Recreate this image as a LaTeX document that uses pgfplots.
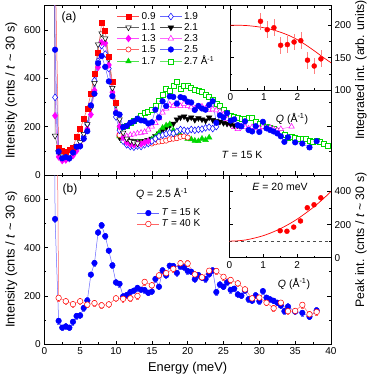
\documentclass[border=0pt]{standalone}
\usepackage{pgfplots}
\usepackage{pgfplotstable}
\pgfplotsset{compat=1.18}
\usepackage{fontspec}
\setmainfont{Liberation Sans}

\definecolor{cred}{RGB}{255,0,0}
\definecolor{cmag}{RGB}{255,0,255}
\definecolor{cgreen}{RGB}{0,215,0}
\definecolor{cblue}{RGB}{0,0,255}

\pgfplotsset{
  base/.style={scale only axis,
    font=\fontsize{10}{12}\selectfont,
    /pgf/number format/assume math mode=true,
    tick align=inside, major tick length=3.5pt, minor tick length=2pt,
    every tick/.style={black, line width=0.5pt},
    axis line style={line width=0.6pt},
    label style={font=\fontsize{12.8}{15}\selectfont},
    legend image code/.code={\draw[mark repeat=2,mark phase=2,#1] plot coordinates {(0pt,0pt) (11pt,0pt) (22pt,0pt)};},
  },
  s09/.style={color=cred!70, line width=0.5pt, mark=square*, mark size=2.5pt, mark options={draw=cred, fill=cred, solid}},
  s11/.style={color=black!60, line width=0.5pt, mark=triangle*, mark size=3.2pt, mark options={draw=black, fill=white, rotate=180, solid}},
  s13/.style={color=cmag!70, line width=0.5pt, mark=diamond*, mark size=3.4pt, mark options={draw=cmag, fill=cmag, solid}},
  s15/.style={color=cred!60, line width=0.5pt, mark=*, mark size=2.6pt, mark options={draw=cred, fill=white, solid}},
  s17/.style={color=cgreen!70, line width=0.5pt, mark=triangle*, mark size=3.2pt, mark options={draw=cgreen, fill=cgreen, solid}},
  s19/.style={color=cblue!60, line width=0.5pt, mark=diamond*, mark size=3.4pt, mark options={draw=cblue, fill=white, solid}},
  s21/.style={color=black!70, line width=0.5pt, mark=triangle*, mark size=3.2pt, mark options={draw=black, fill=black, rotate=180, solid}},
  s23/.style={color=cmag!60, line width=0.5pt, mark=triangle*, mark size=3.2pt, mark options={draw=cmag, fill=white, solid}},
  s25/.style={color=cblue!60, line width=0.5pt, mark=*, mark size=2.8pt, mark options={draw=cblue, fill=cblue, solid}},
  s27/.style={color=cgreen!60, line width=0.5pt, mark=square*, mark size=2.5pt, mark options={draw=cgreen, fill=white, solid}},
  s40/.style={color=cred!60, line width=0.5pt, mark=*, mark size=2.8pt, mark options={draw=cred, fill=white, solid}},
}

% Q = 2.5, T = 15 K
\pgfplotstableread{
E I
1.0 5000
1.5 518
2.0 97
2.5 69
3.0 74
3.5 69
4.0 93
4.5 117
5.0 119
5.5 150
6.0 181
6.5 288
7.0 336
7.5 462
8.0 492
8.5 447
9.0 387
9.5 326
10.0 256
10.5 250
11.0 198
11.5 203
12.0 216
12.5 222
13.0 233
13.5 226
14.0 224
14.5 213
15.0 218
15.5 270
16.0 238
16.5 305
17.0 285
17.5 325
18.0 323
18.5 295
19.0 322
19.5 318
20.0 303
20.5 300
21.0 269
21.5 286
22.0 275
22.5 270
23.0 290
23.5 305
24.0 216
24.5 247
25.0 238
25.5 256
26.0 225
26.5 230
27.0 206
27.5 201
28.0 222
28.5 186
29.0 180
29.5 202
30.0 178
30.5 220
31.0 193
31.5 186
32.0 180
32.5 172
33.0 160
33.5 137
34.0 156
35.0 135
36.0 130
37.0 114
38.0 140
}\tblue

% Q = 2.5, T = 40 K
\pgfplotstableread{
E I
1.5 2000
2.0 192
3.0 178
4.0 166
5.0 178
6.0 164
7.0 170
8.0 161
9.0 165
10.0 190
11.0 188
12.0 190
13.0 200
14.0 258
15.0 244
16.0 285
17.0 294
18.0 312
19.0 335
20.0 334
21.0 289
22.0 277
23.0 304
24.0 303
25.0 279
26.0 266
27.0 252
28.0 227
29.0 190
30.0 193
31.0 172
32.0 149
33.0 172
34.0 137
35.0 138
36.0 163
37.0 124
38.0 134
}\tred

\pgfplotstableread{
E I
1.0 5000
1.5 900
2.0 113
2.5 100
3.0 97
3.5 103
4.0 112
4.5 160
5.0 190
5.5 232
6.0 275
6.5 335
7.0 420
7.5 505
8.0 628
8.5 595
9.0 490
9.5 385
10.0 300
}\tA

\pgfplotstableread{
E I
1.0 5000
1.5 162
2.0 95
2.5 80
3.0 80
3.5 85
4.0 95
4.5 120
5.0 135
5.5 170
6.0 210
6.5 280
7.0 380
7.5 540
8.0 585
8.5 565
9.0 480
9.5 360
10.0 290
10.5 230
11.0 175
11.5 150
12.0 140
12.5 135
13.0 130
}\tB

\pgfplotstableread{
E I
1.0 5000
1.5 245
2.0 75
2.5 60
3.0 62
3.5 70
4.0 80
4.5 100
5.0 125
5.5 150
6.0 190
6.5 250
7.0 350
7.5 445
8.0 548
8.5 545
9.0 455
9.5 342
10.0 260
10.5 200
11.0 155
11.5 135
12.0 128
12.5 125
13.0 130
13.5 128
14.0 135
14.5 140
}\tC

\pgfplotstableread{
E I
10.5 165
11.0 145
11.5 138
12.0 132
12.5 130
13.0 128
13.5 130
14.0 132
14.5 135
15.0 130
15.5 135
16.0 138
16.5 140
17.0 142
17.5 148
18.0 150
18.5 152
19.0 158
19.5 160
20.0 155
}\tD

\pgfplotstableread{
E I
10.5 160
11.0 140
11.5 135
12.0 130
12.5 132
13.0 135
13.5 133
14.0 138
14.5 140
15.0 148
15.5 158
16.0 175
16.5 195
17.0 205
17.5 210
18.0 185
18.5 172
19.0 165
19.5 158
20.0 150
20.5 148
21.0 142
21.5 140
22.0 150
22.5 145
23.0 155
}\tE

\pgfplotstableread{
E I
1.0 5000
1.5 321
2.0 90
2.5 70
3.0 72
3.5 68
4.0 85
4.5 110
5.0 120
5.5 160
6.0 210
6.5 280
7.0 390
7.5 470
8.0 535
8.5 500
9.0 440
9.5 330
10.0 240
10.5 185
11.0 140
11.5 125
12.0 118
12.5 115
13.0 120
13.5 118
14.0 125
14.5 130
15.0 140
15.5 150
16.0 160
16.5 165
17.0 170
17.5 175
18.0 172
18.5 180
19.0 188
19.5 185
20.0 182
20.5 188
21.0 185
21.5 188
22.0 190
22.5 195
23.0 198
23.5 192
24.0 200
}\tF

\pgfplotstableread{
E I
10.5 155
11.0 150
11.5 145
12.0 142
12.5 140
13.0 138
13.5 140
14.0 140
14.5 145
15.0 150
15.5 160
16.0 172
16.5 185
17.0 195
17.5 205
18.0 212
18.5 230
19.0 238
19.5 242
20.0 232
20.5 238
21.0 228
21.5 235
22.0 230
22.5 225
23.0 238
23.5 228
24.0 222
24.5 220
25.0 215
25.5 212
26.0 210
26.5 205
27.0 205
}\tG

\pgfplotstableread{
E I
10.5 175
11.0 155
11.5 160
12.0 165
12.5 168
13.0 172
13.5 175
14.0 178
14.5 188
15.0 200
15.5 215
16.0 235
16.5 258
17.0 275
17.5 290
18.0 285
18.5 295
19.0 285
19.5 295
20.0 285
20.5 280
21.0 275
21.5 280
22.0 283
22.5 275
23.0 270
23.5 272
24.0 268
24.5 262
25.0 250
25.5 232
26.0 212
26.5 198
27.0 190
27.5 200
28.0 198
28.5 192
29.0 198
29.5 195
30.0 192
30.5 198
31.0 195
31.5 196
32.0 190
32.5 185
33.0 190
34.5 200
}\tH

\pgfplotstableread{
E I
10.5 195
11.0 200
11.5 205
12.0 215
12.5 225
13.0 232
13.5 245
14.0 258
14.5 262
15.0 270
15.5 285
16.0 305
16.5 330
17.0 355
17.5 350
18.0 370
18.5 385
19.0 355
19.5 370
20.0 368
20.5 360
21.0 352
21.5 350
22.0 345
22.5 330
23.0 322
23.5 310
24.0 295
24.5 285
25.0 270
25.5 258
26.0 245
26.5 240
27.0 235
27.5 232
28.0 232
28.5 235
29.0 238
29.5 222
30.0 212
30.5 205
31.0 198
31.5 197
32.0 193
32.5 185
33.0 176
33.5 168
34.0 155
34.5 160
35.0 152
35.5 148
36.0 148
36.5 150
37.0 142
37.5 138
38.0 141
38.5 137
39.0 128
39.5 121
}\tJ

\begin{document}
\begin{tikzpicture}[x=1pt,y=1pt]
\path[use as bounding box] (0,0) rectangle (373,383);

% ---------------- panel (a)
\begin{axis}[base, at={(44.3pt,208pt)}, anchor=south west,
  width=286.7pt, height=169.3pt,
  xmin=0, xmax=40, ymin=0, ymax=700,
  xtick={0,5,...,40}, minor xtick={2.5,7.5,...,37.5}, xticklabels={},
  ytick={0,200,400,600}, minor ytick={100,300,500,700},
  ylabel={Intensity (cnts / \textit{t} \textasciitilde\ 30 s)},
  legend columns=2, legend cell align=left,
  legend style={draw=none, fill=none, at={(0.2536,0.974)}, anchor=north west,
    font=\fontsize{10}{12}\selectfont, inner sep=0pt, row sep=-1.5pt,
    /tikz/every even column/.append style={column sep=2pt}},
]
\addplot[s27, forget plot] table {\tJ};
\addplot[s23, forget plot] table {\tH};
\addplot[s21, forget plot] table {\tG};
\addplot[s17, forget plot] table {\tE};
\addplot[s15, forget plot] table {\tD};
\addplot[s19, forget plot] table {\tF};
\addplot[s13, forget plot] table {\tC};
\addplot[s11, forget plot] table {\tB};
\addplot[s09, forget plot] table {\tA};
\addplot[s25, forget plot] table {\tblue};
\addlegendimage{s09}\addlegendentry{0.9}
\addlegendimage{s19}\addlegendentry{1.9}
\addlegendimage{s11}\addlegendentry{1.1}
\addlegendimage{s21}\addlegendentry{2.1}
\addlegendimage{s13}\addlegendentry{1.3}
\addlegendimage{s23}\addlegendentry{2.3}
\addlegendimage{s15}\addlegendentry{1.5}
\addlegendimage{s25}\addlegendentry{2.5}
\addlegendimage{s17}\addlegendentry{1.7}
\addlegendimage{s27}\addlegendentry{2.7 Å\textsuperscript{-1}}
\end{axis}

% ---------------- panel (b)
\begin{axis}[base, at={(44.3pt,38.7pt)}, anchor=south west,
  width=286.7pt, height=169.3pt,
  xmin=0, xmax=40, ymin=0, ymax=700,
  xtick={0,5,...,40}, minor xtick={2.5,7.5,...,37.5},
  ytick={0,200,400,600}, minor ytick={100,300,500,700},
  xlabel={Energy (meV)},
  ylabel={Intensity (cnts / \textit{t} \textasciitilde\ 30 s)},
  legend cell align=left,
  legend style={draw=none, fill=none, at={(0.323,0.813)}, anchor=north west,
    font=\fontsize{10}{12}\selectfont, inner sep=0pt, row sep=-1.5pt},
]
\addplot[s25, error bars/.cd, y dir=both, y fixed=12,
  error bar style={cblue!60, line width=0.4pt},
  error mark options={cblue!60, rotate=90, mark size=1.3pt}] table {\tblue};
\addlegendentry{\textit{T} = 15 K}
\addplot[s40, error bars/.cd, y dir=both, y fixed=12,
  error bar style={cred!60, line width=0.4pt},
  error mark options={cred!60, rotate=90, mark size=1.3pt}] table {\tred};
\addlegendentry{\textit{T} = 40 K}
\end{axis}

% ---------------- inset (a)
\begin{axis}[base, at={(230.3pt,293pt)}, anchor=south west,
  width=100.7pt, height=84.3pt,
  axis background/.style={fill=white},
  xmin=0, xmax=3, ymin=100, ymax=230,
  xtick={0,1,2}, minor xtick={0.5,1.5,2.5},
  ytick={100,150,200}, minor ytick={125,175,225},
  yticklabel pos=right,
]
\addplot[cred, line width=0.7pt, smooth] coordinates {
(0,200) (0.25,199.9) (0.5,199.3) (0.75,198) (1.0,196) (1.25,193) (1.5,189)
(1.75,184) (2.0,177.5) (2.25,169.5) (2.5,160.5) (2.75,151) (3.0,142)};
\addplot[only marks, mark=*, mark size=2.5pt, mark options={draw=cred, fill=cred},
  error bars/.cd, y dir=both, y fixed=13,
  error bar style={cred!50, line width=0.5pt}, error mark=none] coordinates {
(0.9,206) (1.1,193) (1.3,196) (1.5,169) (1.7,170) (1.9,174) (2.1,176) (2.3,146) (2.5,137) (2.7,148)};
\end{axis}

% ---------------- inset (b)
\begin{axis}[base, at={(229.3pt,125.3pt)}, anchor=south west,
  width=101.7pt, height=82.7pt,
  axis background/.style={fill=white},
  xmin=0, xmax=3, ymin=0, ymax=500,
  xtick={0,1,2}, minor xtick={0.5,1.5,2.5},
  ytick={0,200,400}, minor ytick={100,300},
  yticklabel pos=right,
]
\addplot[black!70, dashed, line width=0.6pt] coordinates {(0,100) (3,100)};
\addplot[cred, line width=0.7pt, smooth] coordinates {
(0,100) (0.25,102) (0.5,108) (0.75,119) (1.0,133) (1.25,152) (1.5,175)
(1.75,202) (2.0,233) (2.25,269) (2.5,308) (2.75,352) (3.0,400)};
\addplot[only marks, mark=*, mark size=2.5pt, mark options={draw=cred, fill=cred}] coordinates {
(1.5,163) (1.7,160) (1.9,185) (2.1,222) (2.3,302) (2.5,320) (2.7,362)};
\end{axis}

% ---------------- annotations
\node[font=\fontsize{12}{14}\selectfont] at (69,366) {(a)};
\node[font=\fontsize{12}{14}\selectfont] at (70,194) {(b)};
\node[font=\fontsize{10.5}{12}\selectfont] at (242,228) {\textit{T} = 15 K};
\node[font=\fontsize{10.5}{12}\selectfont] at (292,264) {\textit{Q} (Å\textsuperscript{-1})};
\node[font=\fontsize{10.5}{12}\selectfont] at (294,99) {\textit{Q} (Å\textsuperscript{-1})};
\node[font=\fontsize{10.5}{12}\selectfont] at (280,196) {\textit{E} = 20 meV};
\node[font=\fontsize{10.5}{12}\selectfont] at (162,189) {\textit{Q} = 2.5 Å\textsuperscript{-1}};
\node[font=\fontsize{12.3}{14}\selectfont, rotate=90] at (361,313) {Integrated int. (arb. units)};
\node[font=\fontsize{12.3}{14}\selectfont, rotate=90] at (361,143) {Peak int. (cnts / \textit{t} \textasciitilde\ 30 s)};
\end{tikzpicture}
\end{document}
